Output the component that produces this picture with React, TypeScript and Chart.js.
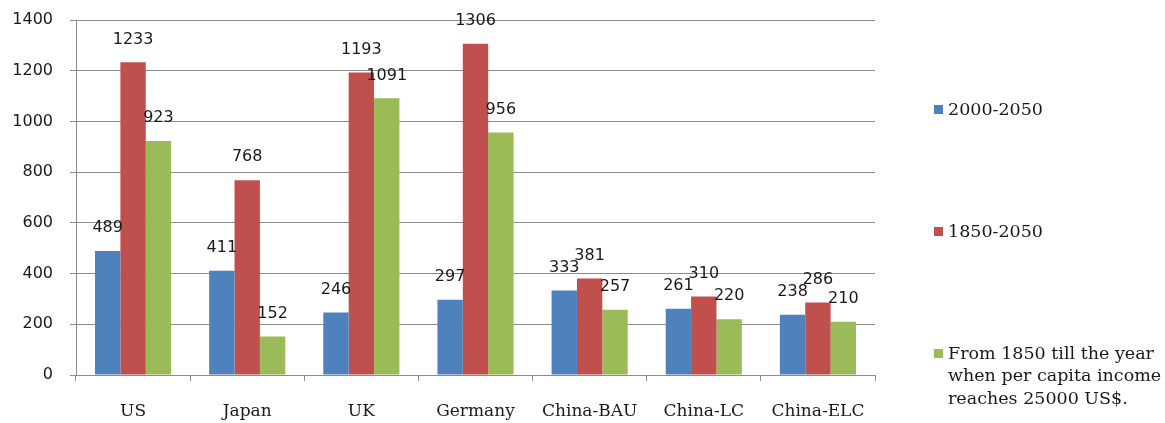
import React, { useEffect, useRef } from "react";
import { Chart, registerables } from "chart.js";

Chart.register(...registerables);

const categories = ["US", "Japan", "UK", "Germany", "China-BAU", "China-LC", "China-ELC"];
const series2000_2050 = [489, 411, 246, 297, 333, 261, 238];
const series1850_2050 = [1233, 768, 1193, 1306, 381, 310, 286];
const seriesTo25000 = [923, 152, 1091, 956, 257, 220, 210];
const legendLines = [
  ["2000-2050"],
  ["1850-2050"],
  ["From 1850 till the year", "when per capita income", "reaches 25000 US$."],
];
const seriesColors = ["#4F81BD", "#C0504D", "#9BBB59"];
const yTicks = [0, 200, 400, 600, 800, 1000, 1200, 1400];

const GRID = "#8c8c8c";
const TEXT = "#1a1a1a";

const dataLabelPlugin = {
  id: "dataLabels",
  afterDatasetsDraw(chart: any) {
    const ctx = chart.ctx;
    ctx.save();
    ctx.font = "16px 'DejaVu Sans'";
    ctx.fillStyle = TEXT;
    ctx.textAlign = "center";
    ctx.textBaseline = "middle";
    chart.data.datasets.forEach((ds: any, i: number) => {
      const meta = chart.getDatasetMeta(i);
      meta.data.forEach((el: any, j: number) => {
        ctx.fillText(String(ds.data[j]), el.x, el.y - 23);
      });
    });
    ctx.restore();
  },
};

const legendPlugin = {
  id: "sideLegend",
  afterDraw(chart: any) {
    const ctx = chart.ctx;
    const centers = [110, 232, 354];
    const lineH = 22.5;
    ctx.save();
    ctx.font = "17.5px 'DejaVu Serif'";
    ctx.textAlign = "left";
    ctx.textBaseline = "middle";
    legendLines.forEach((lines, i) => {
      const cy = centers[i];
      ctx.fillStyle = seriesColors[i];
      ctx.fillRect(934, cy - 5, 9, 9);
      ctx.fillStyle = TEXT;
      lines.forEach((t, k) => {
        ctx.fillText(t, 948, cy + k * lineH);
      });
    });
    ctx.restore();
  },
};

export default function App() {
  const ref = useRef<HTMLCanvasElement | null>(null);
  useEffect(() => {
    if (!ref.current) return;
    const chart = new Chart(ref.current, {
      type: "bar",
      data: {
        labels: categories,
        datasets: [
          { label: legendLines[0].join(" "), data: series2000_2050, backgroundColor: seriesColors[0] },
          { label: legendLines[1].join(" "), data: series1850_2050, backgroundColor: seriesColors[1] },
          { label: legendLines[2].join(" "), data: seriesTo25000, backgroundColor: seriesColors[2] },
        ],
      },
      options: {
        responsive: false,
        animation: false,
        devicePixelRatio: 1,
        layout: { padding: { top: 20, right: 290, left: 0, bottom: 0 } },
        datasets: { bar: { categoryPercentage: 0.667, barPercentage: 1 } },
        plugins: { legend: { display: false }, tooltip: { enabled: false } },
        scales: {
          x: {
            offset: true,
            grid: {
              display: true,
              drawOnChartArea: false,
              drawTicks: true,
              tickLength: 6,
              color: GRID,
              offset: true,
            },
            border: { display: true, color: GRID },
            ticks: {
              color: TEXT,
              font: { family: "'DejaVu Serif'", size: 17 },
              padding: 20,
              maxRotation: 0,
              autoSkip: false,
            },
            afterFit(scale: any) {
              scale.height = 48;
            },
          },
          y: {
            min: 0,
            max: 1400,
            afterBuildTicks(scale: any) {
              scale.ticks = yTicks.map((v) => ({ value: v }));
            },
            grid: { color: GRID, tickLength: 6, drawTicks: true },
            border: { display: true, color: GRID },
            ticks: {
              color: TEXT,
              font: { family: "'DejaVu Sans'", size: 16 },
              padding: 17,
              callback: (v: any) => String(v),
            },
            afterFit(scale: any) {
              scale.width = 76;
              scale.paddingTop = 0;
              scale.paddingBottom = 0;
            },
          },
        },
      },
      plugins: [dataLabelPlugin, legendPlugin],
    } as any);
    return () => chart.destroy();
  }, []);
  return (
    <div style={{ position: "fixed", left: 0, top: 0, width: 1165, height: 423, background: "#fff" }}>
      <canvas ref={ref} width={1165} height={423} style={{ display: "block" }} />
    </div>
  );
}
